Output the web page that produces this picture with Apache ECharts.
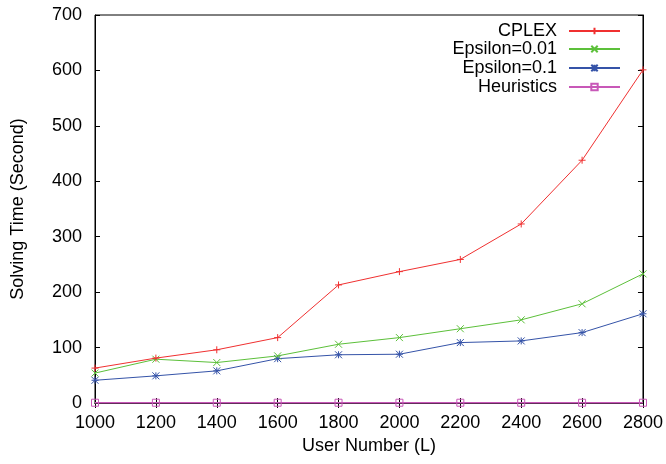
<!DOCTYPE html>
<html>
<head>
<meta charset="utf-8">
<script src="https://cdn.jsdelivr.net/npm/echarts@6/dist/echarts.min.js"></script>
<style>
  html, body { margin: 0; padding: 0; background: #fff; }
  #chart { width: 666px; height: 464px; }
</style>
</head>
<body>
<div id="chart"></div>
<script>
// user numbers on the x axis
const userNumbers = [1000, 1200, 1400, 1600, 1800, 2000, 2200, 2400, 2600, 2800];
// solving time in seconds
const cplex = [63, 81, 96, 118, 213, 237, 259, 323, 438, 601];
const eps001 = [54, 79, 73, 85, 106, 118, 134, 150, 179, 233];
const eps01 = [41, 49, 58, 80, 87, 88, 109, 112, 127, 161];
const heuristics = [0.5, 0.5, 0.5, 0.5, 0.5, 0.5, 0.5, 0.5, 0.5, 0.5];

const seriesNames = ['CPLEX', 'Epsilon=0.01', 'Epsilon=0.1', 'Heuristics'];
const seriesColors = ['#f03030', '#5cc03a', '#3553a8', '#c858b8'];
const seriesData = [cplex, eps001, eps01, heuristics];
const symbols = [
  'path://M0,5L10,5M5,0L5,10',
  'path://M0,0L10,10M10,0L0,10',
  'path://M0,0L10,10M10,0L0,10M5,0L5,10M0,5L10,5',
  'path://M0,0L10,0L10,10L0,10Z'
];

const font = 'Liberation Sans, Arial, Helvetica, sans-serif';

const chart = echarts.init(document.getElementById('chart'));

const series = seriesNames.map((name, i) => ({
  name: name,
  type: 'line',
  data: userNumbers.map((x, k) => [x, seriesData[i][k]]),
  symbol: symbols[i],
  symbolSize: 7,
  showSymbol: true,
  clip: false,
  z: 10 - i,
  lineStyle: { color: seriesColors[i], width: i === 3 ? 1.5 : 1 },
  itemStyle: {
    color: i === 3 ? 'rgba(0,0,0,0)' : seriesColors[i],
    borderColor: seriesColors[i],
    borderWidth: 1
  },
  emphasis: { disabled: true },
  animation: false
}));

const legendTops = [22, 40, 59, 78];
const legends = seriesNames.map((name, i) => ({
  data: [name],
  right: 45,
  top: legendTops[i],
  align: 'right',
  itemWidth: 51,
  itemHeight: 8,
  padding: 0,
  selectedMode: false,
  textStyle: {
    fontFamily: font,
    fontSize: 18,
    color: '#000',
    padding: [0, 7, 0, 0]
  }
}));

chart.setOption({
  backgroundColor: '#fff',
  animation: false,
  textStyle: { fontFamily: font },
  grid: {
    left: 95, right: 23, top: 15, bottom: 61,
    show: true, borderColor: '#000', borderWidth: 1
  },
  legend: legends,
  xAxis: [{
    type: 'value',
    min: 1000, max: 2800, interval: 200,
    name: 'User Number (L)',
    nameLocation: 'middle',
    nameGap: 31,
    nameTextStyle: { fontFamily: font, fontSize: 18, color: '#000' },
    axisLine: { show: true, onZero: false, lineStyle: { color: '#000', width: 1 } },
    axisTick: { show: true, inside: true, length: 5, lineStyle: { color: '#000' } },
    axisLabel: { fontFamily: font, fontSize: 18, color: '#000', margin: 11, formatter: v => String(v) },
    splitLine: { show: false }
  }, {
    type: 'value',
    position: 'top',
    min: 1000, max: 2800, interval: 200,
    axisLine: { show: true, lineStyle: { color: '#000', width: 1 } },
    axisTick: { show: true, inside: true, length: 5, lineStyle: { color: '#000' } },
    axisLabel: { show: false },
    splitLine: { show: false }
  }],
  yAxis: [{
    type: 'value',
    min: 0, max: 700, interval: 100,
    name: 'Solving Time (Second)',
    nameLocation: 'middle',
    nameGap: 68,
    nameTextStyle: { fontFamily: font, fontSize: 18, color: '#000' },
    axisLine: { show: true, lineStyle: { color: '#000', width: 1 } },
    axisTick: { show: true, inside: true, length: 5, lineStyle: { color: '#000' } },
    axisLabel: { fontFamily: font, fontSize: 18, color: '#000', margin: 13 },
    splitLine: { show: false }
  }, {
    type: 'value',
    position: 'right',
    min: 0, max: 700, interval: 100,
    axisLine: { show: true, lineStyle: { color: '#000', width: 1 } },
    axisTick: { show: true, inside: true, length: 5, lineStyle: { color: '#000' } },
    axisLabel: { show: false },
    splitLine: { show: false }
  }],
  series: series
});
</script>
</body>
</html>
